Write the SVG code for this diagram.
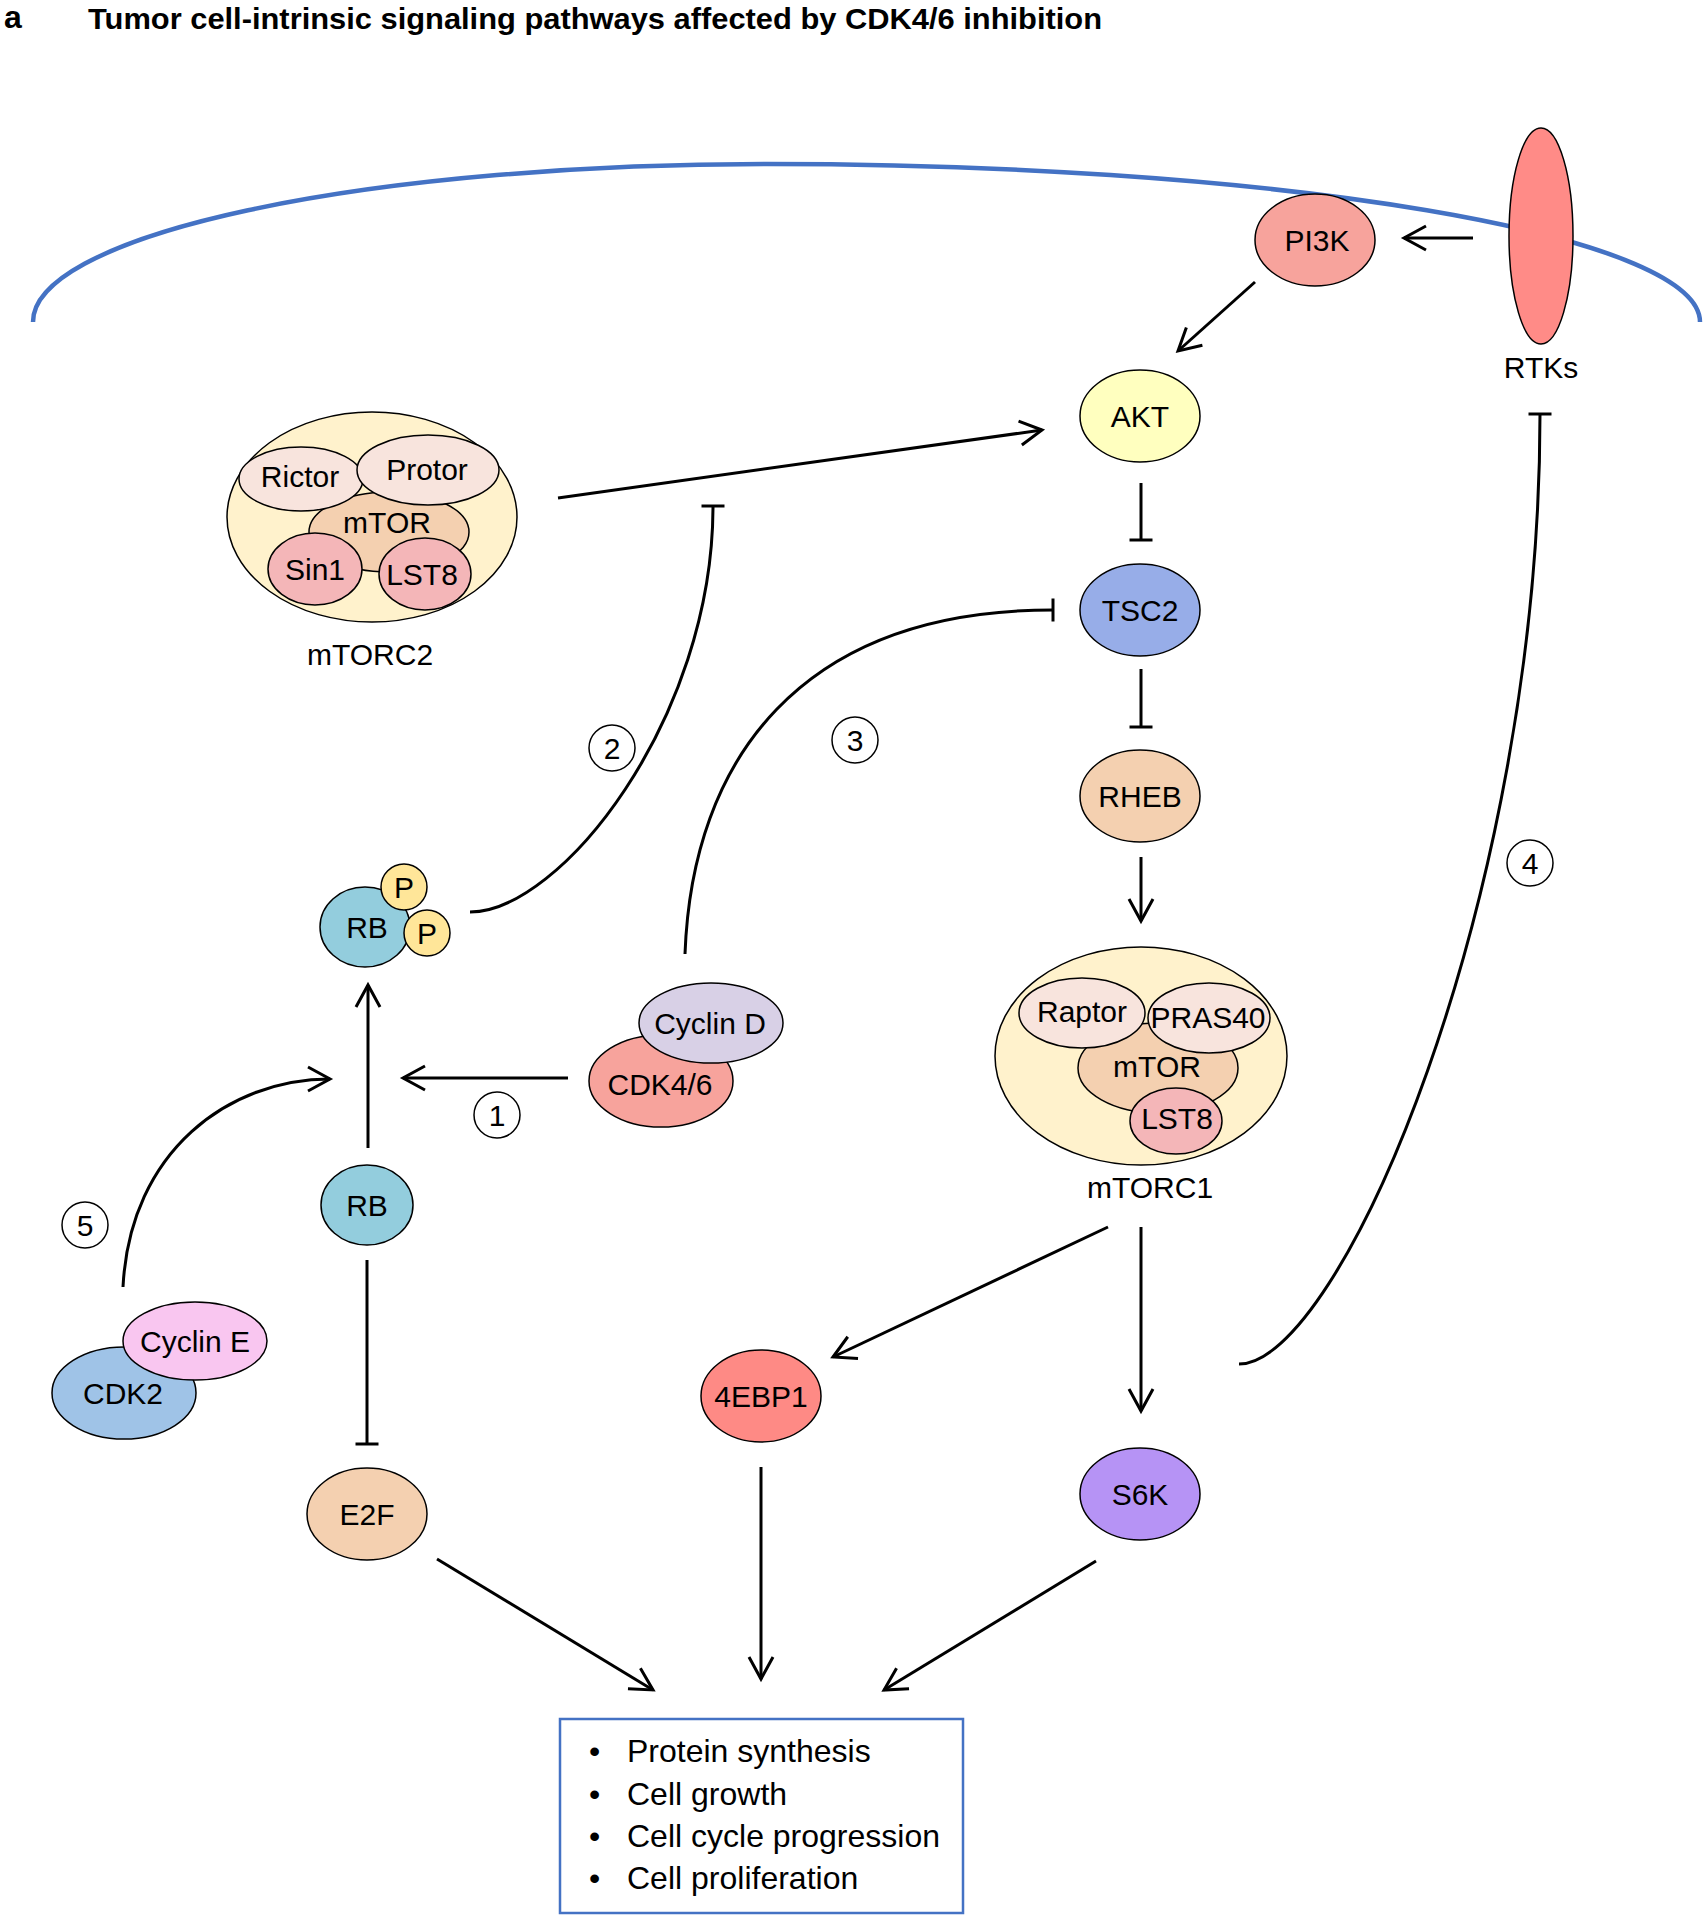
<svg xmlns="http://www.w3.org/2000/svg" width="1706" height="1920" viewBox="0 0 1706 1920">
<defs>
<style>
text{font-family:"Liberation Sans",Arial,sans-serif;fill:#000;}
.lbl{font-size:30px;text-anchor:middle;}
.num{font-size:30px;text-anchor:middle;}
.n{stroke:#000;stroke-width:1.5;}
.ln{fill:none;stroke:#000;stroke-width:3;}
.box{font-size:32px;}
</style>
<marker id="arr" markerUnits="userSpaceOnUse" markerWidth="40" markerHeight="40" viewBox="-30 -20 40 40" refX="0" refY="0" orient="auto">
<path d="M-22,-12 L0,0 L-22,12" fill="none" stroke="#000" stroke-width="3"/>
</marker>
<marker id="bar" markerUnits="userSpaceOnUse" markerWidth="10" markerHeight="30" viewBox="-5 -15 10 30" refX="0" refY="0" orient="auto">
<path d="M0,-11.5 V11.5" fill="none" stroke="#000" stroke-width="3"/>
</marker>
</defs>
<rect width="1706" height="1920" fill="#fff"/>

<g id="title">
<text x="4" y="28" font-size="32" font-weight="bold">a</text>
<text x="88" y="29" font-size="30" font-weight="bold" textLength="1014" lengthAdjust="spacingAndGlyphs">Tumor cell-intrinsic signaling pathways affected by CDK4/6 inhibition</text>
</g>

<g id="membrane">
<path d="M33,322 A734,158 0 0 1 767,164 A933,158 0 0 1 1700,322" fill="none" stroke="#4472C4" stroke-width="4.5"/>
</g>

<g id="connectors">
<line class="ln" x1="1473" y1="238" x2="1404" y2="238" marker-end="url(#arr)"/>
<line class="ln" x1="1255" y1="282" x2="1178" y2="351" marker-end="url(#arr)"/>
<line class="ln" x1="558" y1="498" x2="1042" y2="430" marker-end="url(#arr)"/>
<line class="ln" x1="1141" y1="483" x2="1141" y2="540" marker-end="url(#bar)"/>
<line class="ln" x1="1141" y1="669" x2="1141" y2="727" marker-end="url(#bar)"/>
<line class="ln" x1="1141" y1="857" x2="1141" y2="921" marker-end="url(#arr)"/>
<line class="ln" x1="1141" y1="1227" x2="1141" y2="1411" marker-end="url(#arr)"/>
<line class="ln" x1="1108" y1="1227" x2="833" y2="1357" marker-end="url(#arr)"/>
<line class="ln" x1="761" y1="1467" x2="761" y2="1679" marker-end="url(#arr)"/>
<line class="ln" x1="437" y1="1559" x2="653" y2="1690" marker-end="url(#arr)"/>
<line class="ln" x1="1096" y1="1561" x2="884" y2="1690" marker-end="url(#arr)"/>
<line class="ln" x1="368" y1="1148" x2="368" y2="985" marker-end="url(#arr)"/>
<line class="ln" x1="568" y1="1078" x2="403" y2="1078" marker-end="url(#arr)"/>
<line class="ln" x1="367" y1="1260" x2="367" y2="1444" marker-end="url(#bar)"/>
<path class="ln" d="M470,912 C560,912 713,720 713,506" marker-end="url(#bar)"/>
<path class="ln" d="M685,954 C692,760 800,610 1053,610" marker-end="url(#bar)"/>
<path class="ln" d="M1239,1364 C1340,1364 1540,900 1540,414" marker-end="url(#bar)"/>
<path class="ln" d="M123,1287 C130,1150 230,1079 330,1079" marker-end="url(#arr)"/>
</g>

<g id="labels-num">
<g id="num1"><circle cx="497" cy="1115" r="23" fill="#fff" class="n"/><text class="num" x="497" y="1126">1</text></g>
<g id="num2"><circle cx="612" cy="748" r="23" fill="#fff" class="n"/><text class="num" x="612" y="759">2</text></g>
<g id="num3"><circle cx="855" cy="740" r="23" fill="#fff" class="n"/><text class="num" x="855" y="751">3</text></g>
<g id="num4"><circle cx="1530" cy="863" r="23" fill="#fff" class="n"/><text class="num" x="1530" y="874">4</text></g>
<g id="num5"><circle cx="85" cy="1225" r="23" fill="#fff" class="n"/><text class="num" x="85" y="1236">5</text></g>
</g>

<g id="RTKs">
<ellipse cx="1541" cy="236" rx="32" ry="108" fill="#FF8B87" class="n"/>
<text class="lbl" x="1541" y="378">RTKs</text>
</g>
<g id="PI3K">
<ellipse cx="1315" cy="240" rx="60" ry="46" fill="#F7A39C" class="n"/>
<text class="lbl" x="1317" y="251">PI3K</text>
</g>
<g id="AKT">
<ellipse cx="1140" cy="416" rx="60" ry="46" fill="#FFFFBF" class="n"/>
<text class="lbl" x="1140" y="427">AKT</text>
</g>
<g id="TSC2">
<ellipse cx="1140" cy="610" rx="60" ry="46" fill="#97ADE8" class="n"/>
<text class="lbl" x="1140" y="621">TSC2</text>
</g>
<g id="RHEB">
<ellipse cx="1140" cy="796" rx="60" ry="46" fill="#F4D0B0" class="n"/>
<text class="lbl" x="1140" y="807">RHEB</text>
</g>

<g id="mTORC2">
<ellipse cx="372" cy="517" rx="145" ry="105" fill="#FFF2CC" class="n"/>
<ellipse cx="389" cy="532" rx="80" ry="40" fill="#F4D0B0" class="n"/>
<ellipse cx="301" cy="479" rx="62" ry="32" fill="#F8E4DD" class="n"/>
<ellipse cx="428" cy="470" rx="71" ry="35" fill="#F8E4DD" class="n"/>
<ellipse cx="315" cy="569" rx="47" ry="36" fill="#F4B6B8" class="n"/>
<ellipse cx="425" cy="574" rx="46" ry="36" fill="#F4B6B8" class="n"/>
<text class="lbl" x="300" y="487">Rictor</text>
<text class="lbl" x="427" y="480">Protor</text>
<text class="lbl" x="387" y="533">mTOR</text>
<text class="lbl" x="315" y="580">Sin1</text>
<text class="lbl" x="422" y="585">LST8</text>
<text class="lbl" x="370" y="665">mTORC2</text>
</g>

<g id="mTORC1">
<ellipse cx="1141" cy="1056" rx="146" ry="109" fill="#FFF2CC" class="n"/>
<ellipse cx="1158" cy="1068" rx="80" ry="45" fill="#F4D0B0" class="n"/>
<ellipse cx="1082" cy="1013" rx="63" ry="35" fill="#F8E4DD" class="n"/>
<ellipse cx="1209" cy="1018" rx="61" ry="35" fill="#F8E4DD" class="n"/>
<ellipse cx="1176" cy="1121" rx="46" ry="33" fill="#F4B6B8" class="n"/>
<text class="lbl" x="1082" y="1022">Raptor</text>
<text class="lbl" x="1208" y="1028">PRAS40</text>
<text class="lbl" x="1157" y="1077">mTOR</text>
<text class="lbl" x="1177" y="1129">LST8</text>
<text class="lbl" x="1150" y="1198">mTORC1</text>
</g>

<g id="RB-P">
<ellipse cx="365" cy="927" rx="45" ry="40" fill="#93CDDD" class="n"/>
<circle cx="404" cy="887" r="23" fill="#FFE699" class="n"/>
<circle cx="427" cy="933" r="23" fill="#FFE699" class="n"/>
<text class="lbl" x="367" y="938">RB</text>
<text class="lbl" x="404" y="898">P</text>
<text class="lbl" x="427" y="944">P</text>
</g>

<g id="CDK46-CyclinD">
<ellipse cx="661" cy="1081" rx="72" ry="46" fill="#F7A39C" class="n"/>
<ellipse cx="711" cy="1023" rx="72" ry="40" fill="#D8D0E6" class="n"/>
<text class="lbl" x="710" y="1034">Cyclin D</text>
<text class="lbl" x="660" y="1095">CDK4/6</text>
</g>

<g id="RB">
<ellipse cx="367" cy="1205" rx="46" ry="40" fill="#93CDDD" class="n"/>
<text class="lbl" x="367" y="1216">RB</text>
</g>

<g id="CDK2-CyclinE">
<ellipse cx="124" cy="1393" rx="72" ry="46" fill="#9FC3E7" class="n"/>
<ellipse cx="195" cy="1341" rx="72" ry="39" fill="#F9C6F0" class="n"/>
<text class="lbl" x="195" y="1352">Cyclin E</text>
<text class="lbl" x="123" y="1404">CDK2</text>
</g>

<g id="E2F">
<ellipse cx="367" cy="1514" rx="60" ry="46" fill="#F4D0B0" class="n"/>
<text class="lbl" x="367" y="1525">E2F</text>
</g>
<g id="4EBP1">
<ellipse cx="761" cy="1396" rx="60" ry="46" fill="#FE8A85" class="n"/>
<text class="lbl" x="761" y="1407">4EBP1</text>
</g>
<g id="S6K">
<ellipse cx="1140" cy="1494" rx="60" ry="46" fill="#B693F5" class="n"/>
<text class="lbl" x="1140" y="1505">S6K</text>
</g>

<g id="outcomes">
<rect x="560" y="1719" width="403" height="194" fill="#fff" stroke="#4472C4" stroke-width="2.5"/>
<text class="box" x="589" y="1762">•</text>
<text class="box" x="589" y="1805">•</text>
<text class="box" x="589" y="1847">•</text>
<text class="box" x="589" y="1889">•</text>
<text class="box" x="627" y="1762">Protein synthesis</text>
<text class="box" x="627" y="1805">Cell growth</text>
<text class="box" x="627" y="1847">Cell cycle progression</text>
<text class="box" x="627" y="1889">Cell proliferation</text>
</g>
</svg>
